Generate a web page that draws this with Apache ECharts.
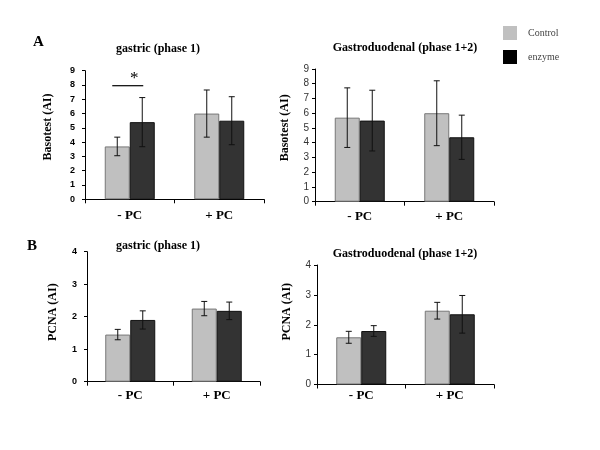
<!DOCTYPE html>
<html>
<head>
<meta charset="utf-8">
<script src="https://cdn.jsdelivr.net/npm/echarts@6/dist/echarts.min.js"></script>
<style>html,body{margin:0;padding:0;background:#fff}#c{width:600px;height:450px}</style>
</head>
<body>
<div id="c"></div>
<script>
// ---- data ----
const categories = ['- PC', '+ PC'];
const seriesNames = ['Control', 'enzyme'];
const panelTitles = ['gastric (phase 1)', 'Gastroduodenal (phase 1+2)', 'gastric (phase 1)', 'Gastroduodenal (phase 1+2)'];
const yNames = ['Basotest (AI)', 'Basotest (AI)', 'PCNA (AI)', 'PCNA (AI)'];
const yMax = [9, 9, 4, 4];
const panelLetters = ['A', 'B'];

// Basotest, gastric (phase 1)
const basoGastricControl = [3.7, 6.0];
const basoGastricControlSD = [0.65, 1.65];
const basoGastricEnzyme = [5.4, 5.5];
const basoGastricEnzymeSD = [1.72, 1.68];
// Basotest, Gastroduodenal (phase 1+2)
const basoDuoControl = [5.7, 6.0];
const basoDuoControlSD = [2.02, 2.2];
const basoDuoEnzyme = [5.5, 4.37];
const basoDuoEnzymeSD = [2.06, 1.5];
// PCNA, gastric (phase 1)
const pcnaGastricControl = [1.45, 2.25];
const pcnaGastricControlSD = [0.16, 0.22];
const pcnaGastricEnzyme = [1.9, 2.18];
const pcnaGastricEnzymeSD = [0.28, 0.27];
// PCNA, Gastroduodenal (phase 1+2)
const pcnaDuoControl = [1.58, 2.47];
const pcnaDuoControlSD = [0.2, 0.28];
const pcnaDuoEnzyme = [1.79, 2.35];
const pcnaDuoEnzymeSD = [0.18, 0.63];

// significance marker (panel A, gastric, - PC)
const sigCategory = 0;
const sigValue = 7.95;
const sigLabel = '*';

// ---- layout / style ----
const panels = [
  {c: basoGastricControl, cs: basoGastricControlSD, e: basoGastricEnzyme, es: basoGastricEnzymeSD},
  {c: basoDuoControl, cs: basoDuoControlSD, e: basoDuoEnzyme, es: basoDuoEnzymeSD},
  {c: pcnaGastricControl, cs: pcnaGastricControlSD, e: pcnaGastricEnzyme, es: pcnaGastricEnzymeSD},
  {c: pcnaDuoControl, cs: pcnaDuoControlSD, e: pcnaDuoEnzyme, es: pcnaDuoEnzymeSD}
];
const grids = [
  {left: 85, top: 70.7, width: 179, height: 128.6},
  {left: 315, top: 69, width: 179, height: 132.7},
  {left: 87, top: 251.7, width: 173, height: 130},
  {left: 317, top: 265, width: 177, height: 119.5}
];
const titlePos = [[153, 38], [400, 37], [153, 235], [400, 243]];
const nameGap = [31, 24, 28, 24];
const namePad = [16, 15, 9, 26];
const xLabelMargin = [10, 8, 7, 5];
const boldTicks = [true, false, true, false];
const yLabelMargin = [10, 6, 10, 6];
const barW = 25;
const controlColor = '#c0c0c0';
const enzymeColor = '#333333';
const serif = '"Liberation Serif", "Times New Roman", serif';
const sans = '"Liberation Sans", Arial, sans-serif';

const chart = echarts.init(document.getElementById('c'), null, {renderer: 'canvas'});

const xAxes = [], yAxes = [], series = [], titles = [];
panels.forEach((p, i) => {
  xAxes.push({
    type: 'category', gridIndex: i, data: categories,
    axisLine: {lineStyle: {color: '#000', width: 1}},
    axisTick: {show: true, length: 4, lineStyle: {color: '#000'}},
    axisLabel: {color: '#000', fontFamily: serif, fontWeight: 'bold', fontSize: 13, margin: xLabelMargin[i]},
    splitLine: {show: false}
  });
  yAxes.push({
    type: 'value', gridIndex: i, min: 0, max: yMax[i], interval: 1,
    name: yNames[i], nameLocation: 'middle', nameGap: nameGap[i],
    nameTextStyle: {fontFamily: serif, fontWeight: 'bold', fontSize: 12, color: '#000', padding: [0, 0, 0, namePad[i]]},
    axisLine: {show: true, lineStyle: {color: '#000', width: 1}},
    axisTick: {show: true, length: 3, lineStyle: {color: '#000'}},
    axisLabel: {color: boldTicks[i] ? '#000' : '#333', fontFamily: sans, fontWeight: boldTicks[i] ? 'bold' : 'normal', fontSize: boldTicks[i] ? 9 : 10, margin: yLabelMargin[i]},
    splitLine: {show: false}
  });
  titles.push({
    text: panelTitles[i], left: titlePos[i][0], top: titlePos[i][1], textAlign: 'center',
    textStyle: {fontFamily: serif, fontWeight: 'bold', fontSize: 12, color: '#000'}
  });
  series.push({
    name: seriesNames[0], type: 'bar', xAxisIndex: i, yAxisIndex: i, data: p.c,
    barWidth: barW, barGap: '0%',
    itemStyle: {color: controlColor, borderColor: '#777', borderWidth: 1}
  });
  series.push({
    name: seriesNames[1], type: 'bar', xAxisIndex: i, yAxisIndex: i, data: p.e,
    barWidth: barW, barGap: '0%',
    itemStyle: {color: enzymeColor, borderColor: '#111', borderWidth: 1}
  });
  const errData = [];
  p.c.forEach((v, k) => errData.push([k, v, p.cs[k], -1]));
  p.e.forEach((v, k) => errData.push([k, v, p.es[k], 1]));
  series.push({
    name: 'error', type: 'custom', xAxisIndex: i, yAxisIndex: i, data: errData, z: 5,
    renderItem: function (params, api) {
      const k = api.value(0), m = api.value(1), sd = api.value(2), side = api.value(3);
      const hi = api.coord([k, m + sd]);
      const lo = api.coord([k, m - sd]);
      const x = hi[0] + side * barW / 2;
      const cap = 3;
      const st = {stroke: '#111', lineWidth: 1};
      return {type: 'group', children: [
        {type: 'line', shape: {x1: x, y1: hi[1], x2: x, y2: lo[1]}, style: st},
        {type: 'line', shape: {x1: x - cap, y1: hi[1], x2: x + cap, y2: hi[1]}, style: st},
        {type: 'line', shape: {x1: x - cap, y1: lo[1], x2: x + cap, y2: lo[1]}, style: st}
      ]};
    }
  });
});

// significance bar + asterisk on panel A gastric
series.push({
  name: 'sig', type: 'custom', xAxisIndex: 0, yAxisIndex: 0, data: [[sigCategory, sigValue]], z: 6,
  renderItem: function (params, api) {
    const pt = api.coord([api.value(0), api.value(1)]);
    return {type: 'group', children: [
      {type: 'line', shape: {x1: pt[0] - 17.5, y1: pt[1], x2: pt[0] + 13.5, y2: pt[1]}, style: {stroke: '#000', lineWidth: 1.2}},
      {type: 'text', style: {text: sigLabel, x: pt[0] + 4.5, y: pt[1] + 1, textAlign: 'center', textVerticalAlign: 'bottom', fontFamily: serif, fontSize: 17, fill: '#000'}}
    ]};
  }
});

titles.push({text: panelLetters[0], left: 28, top: 30, textStyle: {fontFamily: serif, fontWeight: 'bold', fontSize: 15, color: '#000'}});
titles.push({text: panelLetters[1], left: 22, top: 234, textStyle: {fontFamily: serif, fontWeight: 'bold', fontSize: 15, color: '#000'}});

chart.setOption({
  animation: false,
  backgroundColor: '#fff',
  title: titles,
  grid: grids,
  xAxis: xAxes,
  yAxis: yAxes,
  legend: {
    orient: 'vertical', left: 503, top: 26, padding: 0, itemWidth: 14, itemHeight: 14, itemGap: 10,
    icon: 'rect',
    data: [
      {name: seriesNames[0], itemStyle: {color: controlColor, borderWidth: 0}},
      {name: seriesNames[1], itemStyle: {color: '#000', borderWidth: 0}}
    ],
    textStyle: {fontFamily: serif, fontSize: 10, color: '#444', padding: [0, 0, 0, 6]}
  },
  series: series
});
</script>
</body>
</html>
